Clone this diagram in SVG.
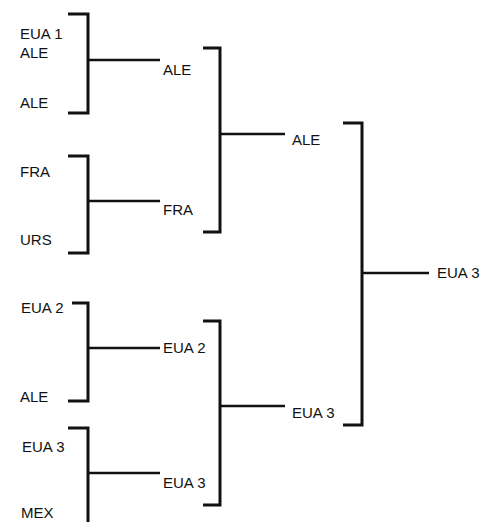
<svg xmlns="http://www.w3.org/2000/svg" width="483" height="522" viewBox="0 0 483 522">
<style>
.t{font-family:"Liberation Sans",Arial,sans-serif;font-size:15px;fill:#111}
.b{fill:none;stroke:#111;stroke-width:3}
.c{fill:none;stroke:#111;stroke-width:2.5}
</style>
<rect width="483" height="522" fill="#fff"/>
<g id="connectors">
<path class="b" d="M68,14H88V113H68"/>
<path class="c" d="M88,60H160"/>
<path class="b" d="M68,156H88V253H68"/>
<path class="c" d="M88,201H160"/>
<path class="b" d="M72,303H88V401H68"/>
<path class="c" d="M88,348H160"/>
<path class="b" d="M68,428H88V522"/>
<path class="c" d="M88,473H160"/>
<path class="b" d="M203,48H220V232H203"/>
<path class="c" d="M220,134H285"/>
<path class="b" d="M203,321H220V505H203"/>
<path class="c" d="M220,406H285"/>
<path class="b" d="M343,123H362V425H343"/>
<path class="c" d="M362,273H429"/>
</g>
<g id="r1-eua1"><text class="t" x="20" y="39">EUA 1</text></g>
<g id="r1-ale1"><text class="t" x="20" y="58">ALE</text></g>
<g id="r1-ale2"><text class="t" x="20" y="108">ALE</text></g>
<g id="r1-fra"><text class="t" x="20" y="177">FRA</text></g>
<g id="r1-urs"><text class="t" x="20" y="245">URS</text></g>
<g id="r1-eua2"><text class="t" x="21" y="313">EUA 2</text></g>
<g id="r1-ale3"><text class="t" x="20" y="402">ALE</text></g>
<g id="r1-eua3"><text class="t" x="22" y="452">EUA 3</text></g>
<g id="r1-mex"><text class="t" x="21" y="518">MEX</text></g>
<g id="r2-ale"><text class="t" x="163" y="75">ALE</text></g>
<g id="r2-fra"><text class="t" x="163" y="215">FRA</text></g>
<g id="r2-eua2"><text class="t" x="163" y="353">EUA 2</text></g>
<g id="r2-eua3"><text class="t" x="163" y="488">EUA 3</text></g>
<g id="r3-ale"><text class="t" x="292" y="145">ALE</text></g>
<g id="r3-eua3"><text class="t" x="292" y="418">EUA 3</text></g>
<g id="final-eua3"><text class="t" x="437" y="278">EUA 3</text></g>
</svg>
